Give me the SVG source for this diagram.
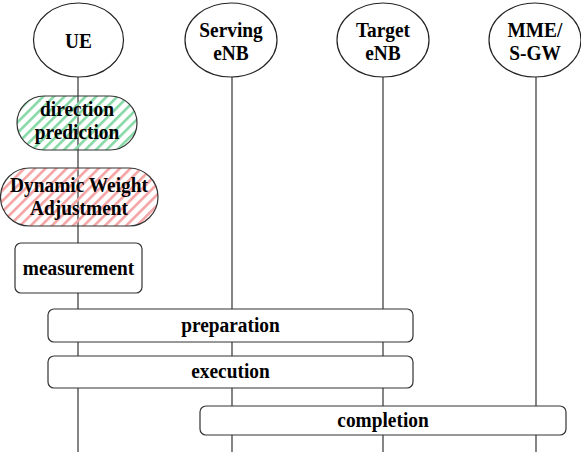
<svg xmlns="http://www.w3.org/2000/svg" width="581" height="452" viewBox="0 0 581 452">
<defs>
<pattern id="hatchG" patternUnits="userSpaceOnUse" width="7.5" height="7.5" patternTransform="rotate(45)">
<rect x="0" y="0" width="2.6" height="7.5" fill="#86d9a6"/>
</pattern>
<pattern id="hatchR" patternUnits="userSpaceOnUse" width="7.5" height="7.5" patternTransform="rotate(45)">
<rect x="0" y="0" width="2.6" height="7.5" fill="#f5a3a3"/>
</pattern>
</defs>
<style>
.ell{fill:#fff;stroke:#222;stroke-width:1.2}
.life{stroke:#333;stroke-width:1.2;fill:none}
.box{fill:#fff;stroke:#333;stroke-width:1.2}
.t{font-family:"Liberation Serif","Times New Roman",serif;font-weight:bold;font-size:22px;fill:#000;text-anchor:middle}
</style>
<rect width="581" height="452" fill="#fff"/>
<g id="connectors">
<line class="life" x1="78" y1="77" x2="78" y2="452"/>
<line class="life" x1="232" y1="77" x2="232" y2="452"/>
<line class="life" x1="383" y1="77" x2="383" y2="452"/>
<line class="life" x1="536" y1="77" x2="536" y2="452"/>
</g>
<g id="ue"><ellipse class="ell" cx="78.5" cy="40" rx="45" ry="37"/><text class="t" transform="translate(78.5,48) scale(0.88,1)">UE</text></g>
<g id="serving"><ellipse class="ell" cx="231" cy="40" rx="46" ry="37"/><text class="t" transform="translate(231,37) scale(0.88,1)">Serving</text><text class="t" transform="translate(231,60) scale(0.88,1)">eNB</text></g>
<g id="target"><ellipse class="ell" cx="383" cy="40" rx="46" ry="37"/><text class="t" transform="translate(383,37) scale(0.88,1)">Target</text><text class="t" transform="translate(383,60) scale(0.88,1)">eNB</text></g>
<g id="mme"><ellipse class="ell" cx="535" cy="40" rx="46" ry="37"/><text class="t" transform="translate(535,37) scale(0.88,1)">MME/</text><text class="t" transform="translate(535,60) scale(0.88,1)">S-GW</text></g>
<g id="direction"><rect x="17" y="96" width="120" height="54" rx="27" fill="url(#hatchG)" stroke="#333" stroke-width="1.2"/><text class="t" transform="translate(77,116) scale(0.88,1)">direction</text><text class="t" transform="translate(77,139) scale(0.88,1)">prediction</text></g>
<g id="dynamic"><rect x="0.5" y="168" width="157.5" height="58" rx="29" fill="url(#hatchR)" stroke="#333" stroke-width="1.2"/><text class="t" transform="translate(79,192) scale(0.88,1)">Dynamic Weight</text><text class="t" transform="translate(79,215) scale(0.88,1)">Adjustment</text></g>
<g id="measurement"><rect class="box" x="15" y="243" width="127" height="50" rx="6"/><text class="t" transform="translate(78.5,275) scale(0.88,1)">measurement</text></g>
<g id="preparation"><rect class="box" x="48" y="309" width="365" height="33" rx="6"/><text class="t" transform="translate(230.5,332) scale(0.88,1)">preparation</text></g>
<g id="execution"><rect class="box" x="48" y="356" width="365" height="32" rx="6"/><text class="t" transform="translate(230.5,378) scale(0.88,1)">execution</text></g>
<g id="completion"><rect class="box" x="200" y="406" width="366" height="29" rx="6"/><text class="t" transform="translate(383,427) scale(0.88,1)">completion</text></g>
</svg>
